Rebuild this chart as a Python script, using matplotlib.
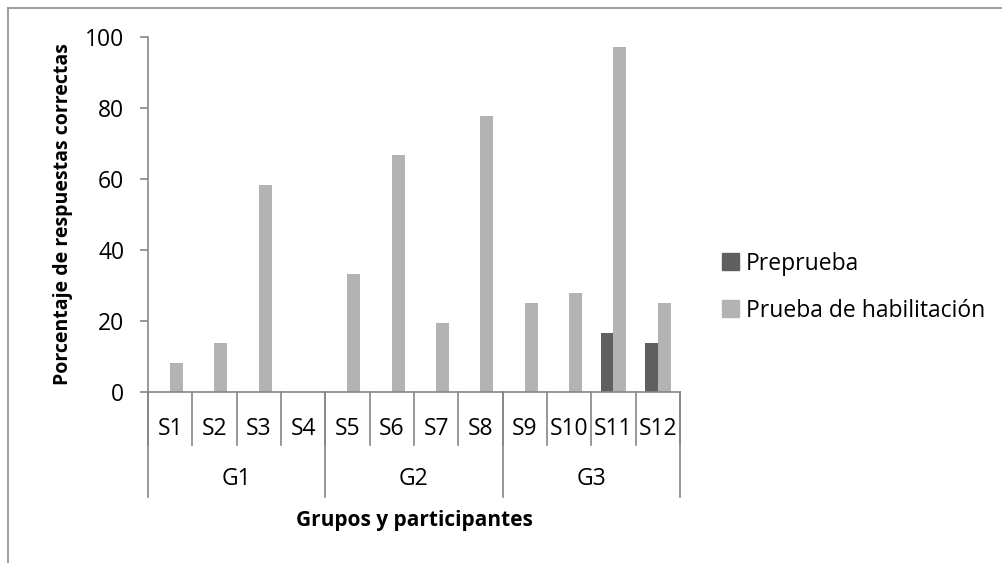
import matplotlib.pyplot as plt
from matplotlib.lines import Line2D
from matplotlib.patches import Patch
import numpy as np

plt.rcParams['font.family'] = ['Open Sans', 'DejaVu Sans']

participants = ["S1", "S2", "S3", "S4", "S5", "S6", "S7", "S8", "S9", "S10", "S11", "S12"]
groups = ["G1", "G2", "G3"]
group_sizes = [4, 4, 4]
preprueba = [0, 0, 0, 0, 0, 0, 0, 0, 0, 0, 16.7, 13.9]
habilitacion = [8.3, 13.9, 58.3, 0, 33.3, 66.7, 19.4, 77.8, 25.0, 27.8, 97.2, 25.0]

dark = "#5f5f5f"
light = "#b3b3b3"
axis_gray = "#868686"
fs = 16.5

fig = plt.figure(figsize=(10.03, 5.63), dpi=100)
ax = fig.add_axes([148/1003, 1-392/563, 532/1003, 355/563])

x = np.arange(len(participants))
w = 0.29
ax.bar(x - w/2, preprueba, w, color=dark, label="Preprueba")
ax.bar(x + w/2, habilitacion, w, color=light, label="Prueba de habilitación")

ax.set_xlim(-0.5, len(participants) - 0.5)
ax.set_ylim(0, 100)
ax.set_yticks(range(0, 101, 20))
ax.tick_params(axis='y', length=6, width=1.2, color=axis_gray, labelsize=fs, pad=11)
ax.set_xticks([])
for s in ['top', 'right']:
    ax.spines[s].set_visible(False)
for s in ['left', 'bottom']:
    ax.spines[s].set_color(axis_gray)
    ax.spines[s].set_linewidth(1.2)

# multi-level category axis
tr = ax.get_xaxis_transform()
bounds = np.arange(len(participants) + 1) - 0.5
for b in bounds:
    ax.plot([b, b], [0, -0.149], color=axis_gray, lw=1.2, transform=tr, clip_on=False)
gb = np.concatenate([[0], np.cumsum(group_sizes)]) - 0.5
for b in gb:
    ax.plot([b, b], [0, -0.296], color=axis_gray, lw=1.2, transform=tr, clip_on=False)
for i, p in enumerate(participants):
    ax.text(i, -0.104, p, ha='center', va='center', fontsize=fs, transform=tr)
for g, a, b in zip(groups, gb[:-1], gb[1:]):
    ax.text((a + b) / 2, -0.245, g, ha='center', va='center', fontsize=fs, transform=tr)

ax.text(0.5, -0.362, "Grupos y participantes", ha='center', va='center',
        fontsize=15, fontweight='bold', transform=ax.transAxes)
ax.text(-0.16, 0.5, "Porcentaje de respuestas correctas", ha='center', va='center',
        rotation=90, fontsize=14, fontweight='bold', transform=ax.transAxes)

handles = [Patch(color=dark), Patch(color=light)]
fig.legend(handles, ["Preprueba", "Prueba de habilitación"], loc='center left',
           bbox_to_anchor=(0.72, 0.49), frameon=False, fontsize=fs,
           handlelength=0.75, handleheight=0.75, handletextpad=0.3, labelspacing=1.0,
           borderaxespad=0, borderpad=0)

# chart frame (only top and left visible)
fig.add_artist(Line2D([8/1003, 1], [1-8/563, 1-8/563], color="#8c8c8c", lw=1.2))
fig.add_artist(Line2D([8/1003, 8/1003], [0, 1-8/563], color="#8c8c8c", lw=1.2))

fig.savefig("out.png", dpi=100)
